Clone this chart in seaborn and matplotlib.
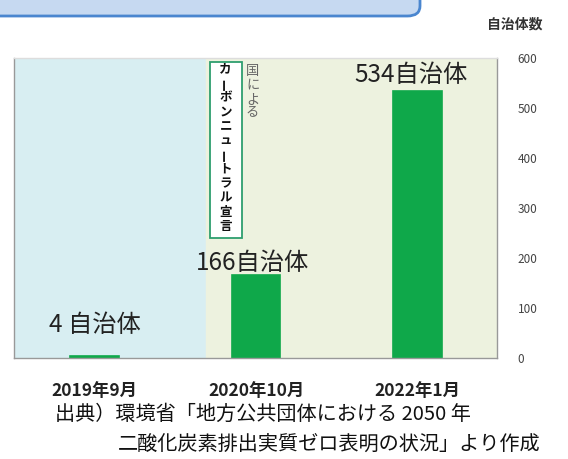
import matplotlib.pyplot as plt
import seaborn as sns
import pandas as pd
from matplotlib.patches import FancyBboxPatch, Rectangle

months = ["2019年9月", "2020年10月", "2022年1月"]
counts = [4, 166, 534]
bar_labels = ["4 自治体", "166自治体", "534自治体"]
y_ticks = [0, 100, 200, 300, 400, 500, 600]
declaration = "カーボンニュートラル宣言"
by_state = "国による"
source_lines = ["出典）環境省「地方公共団体における 2050 年",
                "二酸化炭素排出実質ゼロ表明の状況」より作成"]

sns.set_theme(style="white")
plt.rcParams["font.family"] = ["Noto Sans CJK JP", "DejaVu Sans"]

df = pd.DataFrame({"month": months, "count": counts})

fig = plt.figure(figsize=(5.68, 4.59), dpi=100)
ax = fig.add_axes([0.0246, 0.22, 0.850, 0.6536])

# background bands
ax.axvspan(-0.5, 0.69, color="#d8eef2", zorder=0)
ax.axvspan(0.69, 2.49, color="#edf2df", zorder=0)

sns.barplot(data=df, x="month", y="count", color="#0fa84a",
            width=0.30, saturation=1, ax=ax, zorder=2,
            edgecolor="#0fa84a", linewidth=1.2)

ax.set_xlim(-0.5, 2.49)
ax.set_ylim(0, 600)
ax.yaxis.tick_right()
ax.set_yticks(y_ticks)
ax.set_yticklabels(y_ticks, fontsize=8.5, color="#444444")
ax.tick_params(axis="y", length=0, pad=15)
ax.tick_params(axis="x", length=0, pad=17, labelsize=12.5, labelcolor="#222222")
for lbl in ax.get_xticklabels():
    lbl.set_fontweight("bold")
ax.set_xlabel("")
ax.set_ylabel("")
for side, sp in ax.spines.items():
    sp.set_color("#999999")
    sp.set_linewidth(1.0)
ax.spines["top"].set_color("#dddddd")

# value labels
offsets = [62, 24, 32]
for i, (v, t) in enumerate(zip(counts, bar_labels)):
    ax.text(i - 0.02 * i, v + offsets[i], t, ha="center", va="center",
            fontsize=17.5, color="#222222", zorder=3)

# vertical declaration box
ax.add_patch(Rectangle((0.712, 240), 0.198, 352, fc="white", ec="#2e9e6e",
                       lw=1.3, zorder=4))
for k, ch in enumerate(declaration):
    ax.text(0.811, 578 - k * 28.6, ch, ha="center", va="center",
            fontsize=9, fontweight="bold", color="#111111", zorder=5,
            rotation=90 if ch == "ー" else 0)
for k, ch in enumerate(by_state):
    ax.text(0.978, 574 - k * 28, ch, ha="center", va="center",
            fontsize=9.5, color="#666666", zorder=5)

# unit label
fig.text(515 / 568, 1 - 24 / 459, "自治体数", ha="center", va="center",
         fontsize=10, fontweight="bold", color="#333333")

# source
fig.text(55 / 568, 1 - 414 / 459, source_lines[0], ha="left", va="center",
         fontsize=14.5, color="#111111")
fig.text(118 / 568, 1 - 444 / 459, source_lines[1], ha="left", va="center",
         fontsize=14.5, color="#111111")

# header box
fig.patches.append(FancyBboxPatch((-0.05, 1 - 16 / 459), 0.05 + 420 / 568, 0.1,
                                  boxstyle="round,pad=0,rounding_size=0.022",
                                  transform=fig.transFigure, fc="#c6d9f1",
                                  ec="#4a86cf", lw=2, figure=fig))

fig.savefig("out.png", dpi=100, facecolor="white")
